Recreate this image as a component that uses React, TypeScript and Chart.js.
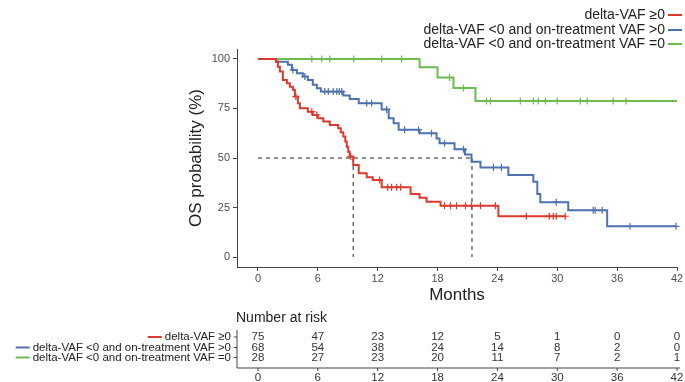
import React, { useEffect, useRef } from "react";
import { Chart, registerables } from "chart.js";

Chart.register(...registerables);

const FONT = "'Liberation Sans', Arial, Helvetica, sans-serif";

// ---------- data ----------
const monthTicks = [0, 6, 12, 18, 24, 30, 36, 42];
const probTicks = [0, 25, 50, 75, 100];

const groupLabels = [
  "delta-VAF \u22650",
  "delta-VAF <0 and on-treatment VAF >0",
  "delta-VAF <0 and on-treatment VAF =0",
];
const groupColors = ["#DC3A2C", "#4E72AF", "#6CBC51"];

const redTimes = [0, 1.8, 2.0, 2.2, 2.5, 2.9, 3.2, 3.5, 3.7, 4.0, 4.2, 5.0, 5.5, 6.0, 6.55, 7.2, 8.05, 8.3, 8.55, 8.75, 8.9, 9.05, 9.2, 9.55, 10.1, 10.9, 11.5, 12.4, 15.3, 16.2, 16.9, 18.3, 24.1];
const redSurv = [100, 98.7, 96.0, 93.6, 89.4, 87.7, 86.0, 84.5, 81.0, 77.6, 75.1, 73.4, 71.7, 70.0, 68.4, 66.7, 65.0, 63.0, 60.8, 58.3, 55.7, 53.2, 50.7, 46.5, 42.3, 40.3, 38.9, 35.2, 31.8, 30.0, 27.9, 25.9, 20.6];
const redEnd = 30.8;
const redCensor = [3.8, 5.4, 5.9, 9.3, 12.2, 13.0, 13.4, 13.9, 14.3, 18.7, 19.3, 19.9, 20.8, 21.4, 22.3, 23.8, 26.9, 29.2, 29.6, 29.9, 30.8];

const blueTimes = [0, 1.8, 3.0, 3.4, 3.9, 4.5, 5.0, 5.5, 5.9, 6.3, 8.55, 9.2, 10.1, 12.4, 13.1, 13.6, 14.1, 16.2, 17.9, 18.2, 19.7, 20.75, 21.4, 22.3, 25.1, 27.6, 28.0, 28.3, 31.1, 35.0];
const blueSurv = [100, 98.6, 97.0, 94.4, 92.8, 91.1, 89.4, 86.9, 85.2, 83.5, 81.5, 79.8, 77.6, 74.5, 70.0, 67.5, 64.3, 62.5, 59.9, 57.4, 54.4, 51.8, 48.1, 45.2, 41.4, 38.0, 31.8, 27.7, 23.6, 15.5];
const blueEnd = 41.9;
const blueCensor = [3.5, 4.7, 6.7, 7.05, 7.55, 7.9, 8.15, 8.4, 10.9, 11.4, 12.9, 14.7, 16.1, 17.4, 18.7, 20.6, 23.6, 24.4, 29.9, 33.6, 33.8, 34.5, 37.3, 41.9];

const greenTimes = [0, 16.2, 18.0, 19.6, 21.8];
const greenSurv = [100, 95.8, 90.6, 85.3, 78.7];
const greenEnd = 42;
const greenCensor = [5.4, 6.4, 7.2, 9.6, 12.4, 14.4, 19.2, 20.6, 22.9, 23.3, 26.3, 27.6, 28.1, 28.8, 30.0, 32.3, 33.0, 35.6, 36.9];

const medianLevel = 50;
const medianRed = 9.55;
const medianBlue = 21.45;

const riskTitle = "Number at risk";
const riskRed = [75, 47, 23, 12, 5, 1, 0, 0];
const riskBlue = [68, 54, 38, 24, 14, 8, 2, 0];
const riskGreen = [28, 27, 23, 20, 11, 7, 2, 1];

// ---------- helpers ----------
function curvePoints(times: number[], surv: number[], end: number) {
  const pts = times.map((t, i) => ({ x: t, y: surv[i] }));
  pts.push({ x: end, y: surv[surv.length - 1] });
  return pts;
}
function survAt(times: number[], surv: number[], t: number) {
  let v = surv[0];
  for (let i = 0; i < times.length; i++) if (times[i] <= t) v = surv[i];
  return v;
}
function censorPoints(times: number[], surv: number[], cens: number[]) {
  return cens.map((t) => ({ x: t, y: survAt(times, surv, t) }));
}

const overlayPlugin = {
  id: "kmOverlay",
  afterDraw(chart: any) {
    const ctx = chart.ctx as CanvasRenderingContext2D;
    const xs = chart.scales.x;
    ctx.save();
    // top-right legend
    ctx.font = `14px ${FONT}`;
    ctx.textAlign = "right";
    ctx.textBaseline = "middle";
    const legY = [15, 30, 44];
    groupLabels.forEach((lab, i) => {
      ctx.fillStyle = "#222";
      ctx.fillText(lab, 665, legY[i]);
      ctx.strokeStyle = groupColors[i];
      ctx.lineWidth = 2;
      ctx.beginPath();
      ctx.moveTo(668, legY[i]);
      ctx.lineTo(682, legY[i]);
      ctx.stroke();
    });

    // risk table
    ctx.fillStyle = "#222";
    ctx.textAlign = "left";
    ctx.font = `14px ${FONT}`;
    ctx.fillText(riskTitle, 236, 318);

    const rowY = [337, 347.5, 357.5];
    const rows = [riskRed, riskBlue, riskGreen];
    const axX = 237;
    const axBottom = 368;
    ctx.strokeStyle = "#444";
    ctx.lineWidth = 1;
    ctx.beginPath();
    ctx.moveTo(axX, 330);
    ctx.lineTo(axX, axBottom);
    ctx.lineTo(xs.getPixelForValue(42) + 3, axBottom);
    ctx.stroke();

    ctx.font = `11.5px ${FONT}`;
    rows.forEach((row, r) => {
      const y = rowY[r];
      // row tick
      ctx.strokeStyle = "#444";
      ctx.lineWidth = 1;
      ctx.beginPath();
      ctx.moveTo(axX - 3, y);
      ctx.lineTo(axX, y);
      ctx.stroke();
      // label
      ctx.textAlign = "right";
      ctx.fillStyle = "#222";
      ctx.fillText(groupLabels[r], 231, y);
      const w = ctx.measureText(groupLabels[r]).width;
      const lx = 231 - w - 3;
      ctx.strokeStyle = groupColors[r];
      ctx.lineWidth = 2;
      ctx.beginPath();
      ctx.moveTo(lx - 14, y);
      ctx.lineTo(lx, y);
      ctx.stroke();
      // numbers
      ctx.textAlign = "center";
      ctx.fillStyle = "#333";
      row.forEach((n, i) => {
        ctx.fillText(String(n), xs.getPixelForValue(monthTicks[i]), y);
      });
    });
    // bottom axis ticks + labels
    monthTicks.forEach((t) => {
      const px = xs.getPixelForValue(t);
      ctx.strokeStyle = "#444";
      ctx.lineWidth = 1;
      ctx.beginPath();
      ctx.moveTo(px, axBottom);
      ctx.lineTo(px, axBottom + 3);
      ctx.stroke();
      ctx.fillStyle = "#333";
      ctx.textAlign = "center";
      ctx.fillText(String(t), px, 377.5);
    });
    ctx.restore();
  },
};

export default function App() {
  const ref = useRef<HTMLCanvasElement | null>(null);

  useEffect(() => {
    if (!ref.current) return;
    Chart.defaults.font.family = FONT;
    const curveDs = (times: number[], surv: number[], end: number, color: string) => ({
      type: "line" as const,
      data: curvePoints(times, surv, end),
      borderColor: color,
      borderWidth: 2,
      stepped: true,
      pointRadius: 0,
      fill: false,
      clip: false,
    });
    const censDs = (times: number[], surv: number[], cens: number[], color: string) => ({
      type: "scatter" as const,
      data: censorPoints(times, surv, cens),
      showLine: false,
      pointStyle: "cross",
      pointRadius: 3.5,
      borderColor: color,
      backgroundColor: color,
      pointBorderWidth: 1.2,
      clip: false,
    });
    const dashDs = (pts: { x: number; y: number }[]) => ({
      type: "line" as const,
      data: pts,
      borderColor: "#555",
      borderWidth: 1.3,
      borderDash: [4, 4],
      pointRadius: 0,
      fill: false,
    });

    const chart = new Chart(ref.current, {
      type: "line",
      data: {
        datasets: [
          curveDs(redTimes, redSurv, redEnd, groupColors[0]),
          curveDs(blueTimes, blueSurv, blueEnd, groupColors[1]),
          curveDs(greenTimes, greenSurv, greenEnd, groupColors[2]),
          censDs(redTimes, redSurv, redCensor, groupColors[0]),
          censDs(blueTimes, blueSurv, blueCensor, groupColors[1]),
          censDs(greenTimes, greenSurv, greenCensor, groupColors[2]),
          dashDs([{ x: 0, y: medianLevel }, { x: medianBlue, y: medianLevel }]),
          dashDs([{ x: medianRed, y: medianLevel }, { x: medianRed, y: 0 }]),
          dashDs([{ x: medianBlue, y: medianLevel }, { x: medianBlue, y: 0 }]),
        ] as any,
      },
      options: {
        animation: false,
        responsive: false,
        maintainAspectRatio: false,
        layout: { padding: { top: 49, left: 0, right: 8, bottom: 75 } },
        plugins: { legend: { display: false }, tooltip: { enabled: false } },
        scales: {
          x: {
            type: "linear",
            min: -2.1,
            max: 42,
            afterBuildTicks: (s: any) => {
              s.ticks = monthTicks.map((v) => ({ value: v }));
            },
            afterFit: (s: any) => {
              s.height = 40;
            },
            grid: { drawOnChartArea: false, drawTicks: true, tickLength: 4, color: "#444" },
            border: { display: true, color: "#444", width: 1 },
            ticks: { font: { size: 11, family: FONT }, color: "#4d4d4d", padding: 1, maxRotation: 0, autoSkip: false },
            title: { display: true, text: "Months", font: { size: 17, family: FONT }, color: "#222", padding: { top: 0, bottom: 1 } },
          },
          y: {
            type: "linear",
            min: -5,
            max: 105,
            afterBuildTicks: (s: any) => {
              s.ticks = probTicks.map((v) => ({ value: v }));
            },
            afterFit: (s: any) => {
              s.width = 237;
            },
            grid: { drawOnChartArea: false, drawTicks: true, tickLength: 4, color: "#444" },
            border: { display: true, color: "#444", width: 1 },
            ticks: { font: { size: 11, family: FONT }, color: "#4d4d4d", padding: 3 },
            title: { display: true, text: "OS probability (%)", font: { size: 17, family: FONT }, color: "#222", padding: { top: 186, bottom: 0 } },
          },
        },
      } as any,
      plugins: [overlayPlugin],
    });
    return () => chart.destroy();
  }, []);

  return (
    <div style={{ position: "fixed", left: 0, top: 0, width: 685, height: 382, background: "#fff" }}>
      <canvas ref={ref} width={685} height={382} style={{ width: 685, height: 382, display: "block" }} />
    </div>
  );
}
